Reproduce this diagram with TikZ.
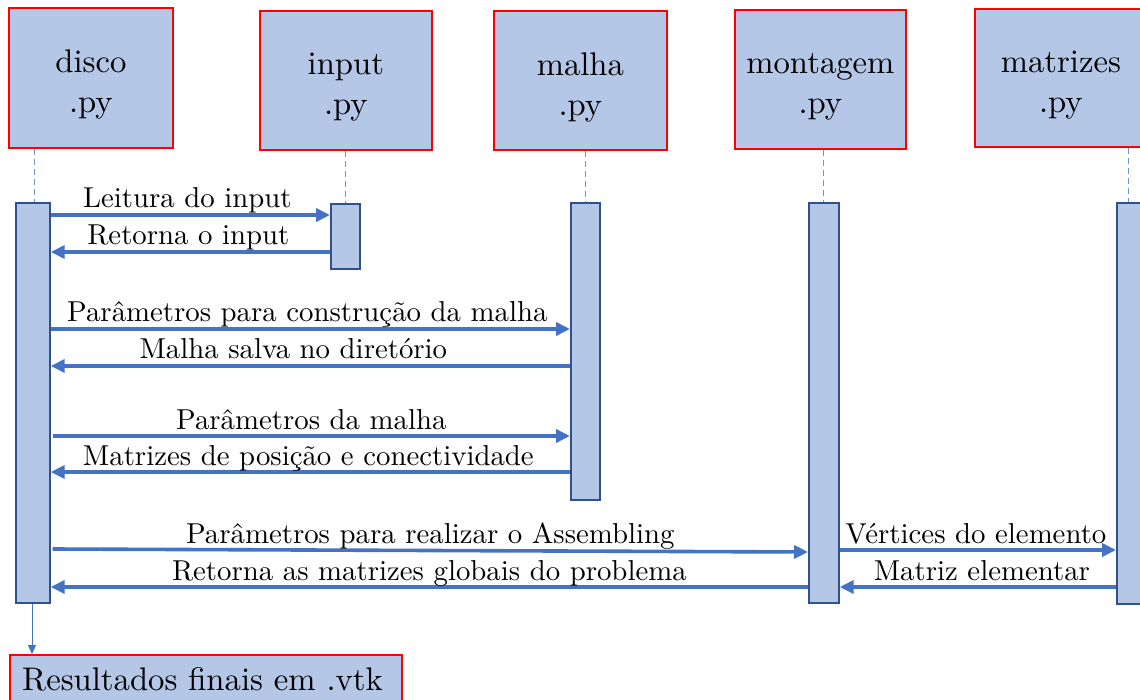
\documentclass[tikz,border=0pt]{standalone}
\usepackage{fontspec}
\setmainfont{lmroman10-regular}[Extension=.otf]
\usetikzlibrary{arrows.meta}
\definecolor{boxfill}{HTML}{B4C7E7}
\definecolor{msgblue}{HTML}{4472C4}
\definecolor{lifeblue}{HTML}{6F93D3}
\definecolor{barline}{HTML}{2F528F}
\definecolor{hdrred}{HTML}{FF0000}
\tikzset{
  hdr/.style={draw=hdrred, line width=1.8pt, fill=boxfill, inner sep=0pt, anchor=north west},
  hdrtxt/.style={align=center, inner sep=0pt, font=\fontsize{32.7}{40}\selectfont},
  actbar/.style={draw=barline, line width=1.7pt, fill=boxfill, anchor=north west, inner sep=0pt},
  life/.style={draw=lifeblue, line width=0.8pt, dash pattern=on 6pt off 4pt},
  msg/.style={draw=msgblue, line width=3.6pt, -{Triangle[length=14pt,width=13pt]}},
  lbl/.style={midway, anchor=base, inner sep=0pt, yshift=7pt, font=\fontsize{28.8}{32}\selectfont, text=black},
}
\begin{document}
\begin{tikzpicture}[x=1pt,y=-1pt]
\useasboundingbox (0,0) rectangle (1140,700);
% headers
\node[hdr, minimum width=164pt, minimum height=140pt] (disco) at (8,7) {};
\node[hdr, minimum width=172pt, minimum height=139pt] (input) at (259,10) {};
\node[hdr, minimum width=173pt, minimum height=139pt] (malha) at (493,10) {};
\node[hdr, minimum width=171pt, minimum height=139pt] (mont) at (734,9) {};
\node[hdr, minimum width=172pt, minimum height=138pt] (matr) at (974,8) {};
\node[hdrtxt] (discot) at ([yshift=-7pt]disco.center) {disco\\.py};
\node[hdrtxt] (inputt) at ([yshift=-7pt]input.center) {input\\.py};
\node[hdrtxt] (malhat) at ([yshift=-7pt]malha.center) {malha\\.py};
\node[hdrtxt] (montt) at ([yshift=-7pt]mont.center) {montagem\\.py};
\node[hdrtxt] (matrt) at ([yshift=-7pt]matr.center) {matrizes\\.py};
% activation bars
\node[actbar, minimum width=34pt, minimum height=400pt] (dbar) at (15,202) {};
\node[actbar, minimum width=29pt, minimum height=65pt] (ibar) at (330,203) {};
\node[actbar, minimum width=29pt, minimum height=297pt] (hbar) at (570,202) {};
\node[actbar, minimum width=30pt, minimum height=400pt] (mbar) at (808,202) {};
\node[actbar, minimum width=34pt, minimum height=401pt] (xbar) at (1116,202) {};
% lifelines
\draw[life] (disco.south -| 34,0) -- (dbar.north -| 34,0);
\draw[life] (input.south -| ibar.north) -- (ibar.north);
\draw[life] (malha.south -| hbar.north) -- (hbar.north);
\draw[life] (mont.south -| mbar.north) -- (mbar.north);
\draw[life] (matr.south -| 1128,0) -- (xbar.north -| 1128,0);
% messages
\draw[msg] ([yshift=-13pt]dbar.north east) -- ([yshift=-12pt]ibar.north west) node[lbl, xshift=-3pt] {Leitura do input};
\draw[msg] ([yshift=-49pt]ibar.north west) -- ([yshift=-50pt]dbar.north east) node[lbl, xshift=-2pt] {Retorna o input};
\draw[msg] ([yshift=-127pt]dbar.north east) -- ([yshift=-127pt]hbar.north west) node[lbl, xshift=-3pt] {Parâmetros para construção da malha};
\draw[msg] ([yshift=-164pt]hbar.north west) -- ([yshift=-164pt]dbar.north east) node[lbl, xshift=-17pt] {Malha salva no diretório};
\draw[msg] ([yshift=-234pt,xshift=2pt]dbar.north east) -- ([yshift=-234pt]hbar.north west) node[lbl] {Parâmetros da malha};
\draw[msg] ([yshift=-270pt]hbar.north west) -- ([yshift=-270pt]dbar.north east) node[lbl, xshift=-2pt] {Matrizes de posição e conectividade};
\draw[msg] ([yshift=-347pt,xshift=2pt]dbar.north east) -- ([yshift=-350pt]mbar.north west) node[lbl] {Parâmetros para realizar o Assembling};
\draw[msg] ([yshift=-385pt]mbar.north west) -- ([yshift=-385pt]dbar.north east) node[lbl] {Retorna as matrizes globais do problema};
\draw[msg] ([yshift=-348pt]mbar.north east) -- ([yshift=-348pt]xbar.north west) node[lbl, xshift=-2pt] {Vértices do elemento};
\draw[msg] ([yshift=-385pt]xbar.north west) -- ([yshift=-385pt]mbar.north east) node[lbl, xshift=4pt] {Matriz elementar};
% result
\node[hdr, minimum width=392pt, minimum height=60pt] (res) at (9,654) {};
\node[anchor=base west, inner sep=0pt, font=\fontsize{32.7}{36}\selectfont] (rest) at ([xshift=13pt,yshift=-36pt]res.north west) {Resultados finais em .vtk};
\draw[draw=msgblue, line width=1pt, -{Triangle[length=9pt,width=8pt]}] (dbar.south -| 32,0) -- (res.north -| 32,0);
\end{tikzpicture}
\end{document}
